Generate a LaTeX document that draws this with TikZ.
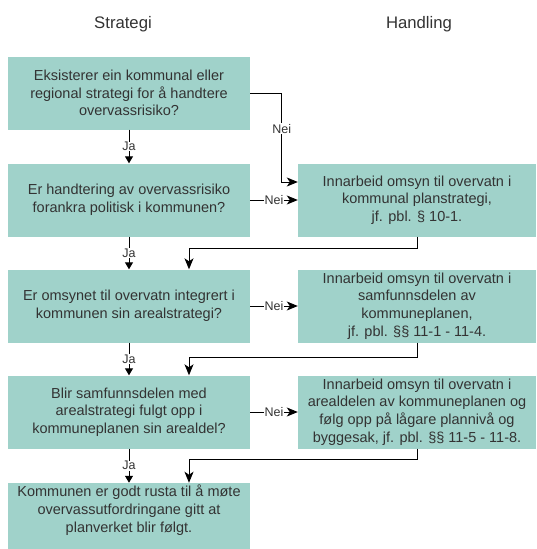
\documentclass[tikz,border=0pt]{standalone}
\usepackage{fontspec}
\setmainfont{Liberation Sans}
\usetikzlibrary{calc,arrows.meta}
\definecolor{boxfill}{HTML}{A0D2CA}
\definecolor{ink}{HTML}{333333}
\tikzset{
  qbox/.style={fill=boxfill, text=ink, align=center, minimum width=242, minimum height=73, inner sep=2pt, font=\fontsize{14.5}{17.7}\selectfont},
  abox/.style={qbox, minimum width=238},
  coltitle/.style={text=ink, font=\fontsize{16.7}{20}\selectfont},
  lab/.style={fill=white, text=ink, inner sep=0.6pt, font=\fontsize{12.5}{14}\selectfont},
  ja/.style={draw=black, line width=0.9pt, -{Triangle[width=8pt,length=7pt]}},
  nei/.style={draw=black, line width=0.9pt, -{Stealth[width=9pt,length=11pt,inset=3pt]}}
}

\begin{document}
\begin{tikzpicture}[x=1pt,y=-1pt]
  \useasboundingbox (0,0) rectangle (537,549);

  \node[coltitle] (tstrat) at (123,24) {Strategi};
  \node[coltitle] (thand) at (419,24) {Handling};

  % strategi
  \node[qbox] (q1) at (129,93) {Eksisterer ein kommunal eller\\regional strategi for å handtere\\overvassrisiko?};
  \node[qbox] (q2) at (129,200) {Er handtering av overvassrisiko\\forankra politisk i kommunen?};
  \node[qbox] (q3) at (129,306) {Er omsynet til overvatn integrert i\\kommunen sin arealstrategi?};
  \node[qbox] (q4) at (129,412) {Blir samfunnsdelen med\\arealstrategi fulgt opp i\\kommuneplanen sin arealdel?};
  \node[qbox, minimum height=66, text depth=15pt] (q5) at (129,516) {Kommunen er godt rusta til å møte\\overvassutfordringane gitt at\\planverket blir følgt.};

  % handling
  \node[abox] (a1) at (417,200) {Innarbeid omsyn til overvatn i\\kommunal planstrategi,\\jf. pbl. § 10-1.};
  \node[abox] (a2) at (417,306) {Innarbeid omsyn til overvatn i\\samfunnsdelen av\\kommuneplanen,\\jf. pbl. §§ 11-1 - 11-4.};
  \node[abox] (a3) at (417,412) {Innarbeid omsyn til overvatn i\\arealdelen av kommuneplanen og\\følg opp på lågare plannivå og\\byggesak, jf. pbl. §§ 11-5 - 11-8.};

  % ja
  \draw[ja] (q1) -- node[lab] {Ja} (q2);
  \draw[ja] (q2) -- node[lab] {Ja} (q3);
  \draw[ja] (q3) -- node[lab] {Ja} (q4);
  \draw[ja] (q4) -- node[lab] {Ja} (q5);

  % nei
  \draw[nei] (q1.east) -| ($(a1.west)+(-16,-18)$) node[lab, pos=0.7] {Nei} -- ($(a1.west)+(0,-18)$);
  \draw[nei] (q2) -- node[lab] {Nei} (a1);
  \draw[nei] (q3) -- node[lab] {Nei} (a2);
  \draw[nei] (q4) -- node[lab] {Nei} (a3);

  % tilbake til neste spørsmål
  \draw[nei] (a1.south) -- ++(0,12) -| ($(q3.north)+(60,0)$);
  \draw[nei] (a2.south) -- ++(0,15) -| ($(q4.north)+(60,0)$);
  \draw[nei] (a3.south) -- ++(0,11) -| ($(q5.north)+(60,0)$);
\end{tikzpicture}
\end{document}
